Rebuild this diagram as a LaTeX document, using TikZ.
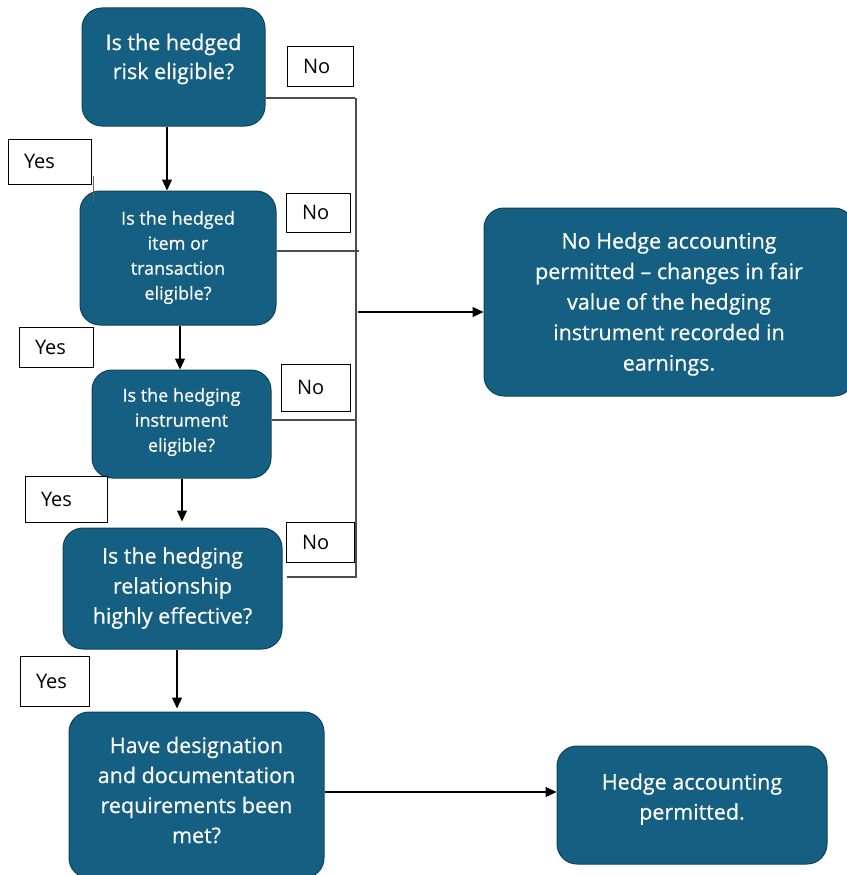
\documentclass[tikz,border=0pt]{standalone}
\usepackage{fontspec}
\setmainfont{Open Sans}
\newfontfamily\boxfont[FakeBold=0.5,Ligatures=TeX]{Open Sans}
\usetikzlibrary{arrows.meta,calc}
\definecolor{boxfill}{HTML}{156082}
\definecolor{boxline}{HTML}{0E4259}
\tikzset{
  qbox/.style={draw=boxline, line width=1pt, fill=boxfill, rounded corners=20pt,
    inner sep=0pt},
  qtext/.style={text=white, align=center, inner sep=0pt},
  tag/.style={draw=black, line width=0.9pt, fill=white, inner ysep=0pt, inner xsep=16pt,
    align=left, font=\fontsize{20}{22}\selectfont},
  bus/.style={draw=black!70, line width=1.2pt},
  flow/.style={draw=black, line width=1.2pt, -{Triangle[length=11pt,width=10pt]}},
}
\begin{document}
\begin{tikzpicture}[x=1pt,y=-1pt]
\useasboundingbox (0,0) rectangle (846,875);

% question boxes
\node[qbox, minimum width=183, minimum height=118] (b1) at (173.5,67) {};
\node[qtext, font=\boxfont\fontsize{21.5}{29}\selectfont] (t1) at (173.5,59)
  {Is the hedged\\risk eligible?};
\node[qbox, minimum width=196, minimum height=134] (b2) at (178,258) {};
\node[qtext, font=\boxfont\fontsize{18}{25}\selectfont] (t2) at (178,257.5)
  {Is the hedged\\item or\\transaction\\eligible?};
\node[qbox, minimum width=179, minimum height=108] (b3) at (181.5,424) {};
\node[qtext, font=\boxfont\fontsize{18}{25}\selectfont] (t3) at (181.5,422)
  {Is the hedging\\instrument\\eligible?};
\node[qbox, minimum width=219, minimum height=121] (b4) at (172.5,588.5) {};
\node[qtext, font=\boxfont\fontsize{21.5}{30}\selectfont] (t4) at (172.5,588)
  {Is the hedging\\relationship\\highly effective?};
\node[qbox, minimum width=255, minimum height=166] (b5) at (196.5,795) {};
\node[qtext, font=\boxfont\fontsize{21.5}{30}\selectfont] (t5) at (196.5,790)
  {Have designation\\and documentation\\requirements been\\met?};

% outcome boxes
\node[qbox, minimum width=370, minimum height=188] (b6) at (669,302) {};
\node[qtext, font=\boxfont\fontsize{21.5}{30.5}\selectfont] (t6) at (669,304)
  {No Hedge accounting\\permitted \textendash{} changes in fair\\value of the hedging\\instrument recorded in\\earnings.};
\node[qbox, minimum width=270, minimum height=118] (b7) at (692,805) {};
\node[qtext, font=\boxfont\fontsize{21.5}{30}\selectfont] (t7) at (692,799)
  {Hedge accounting\\permitted.};

% answer tags
\node[tag, text width=34, minimum height=40] (n1) at (320,66) {No};
\node[tag, text width=32, minimum height=39] (n2) at (318,212.5) {No};
\node[tag, text width=37, minimum height=47] (n3) at (315.5,387.5) {No};
\node[tag, text width=36, minimum height=40] (n4) at (320,542) {No};
\node[tag, text width=51, minimum height=45] (y1) at (49.5,161.5) {Yes};
\node[tag, text width=42, minimum height=40] (y2) at (56,347) {Yes};
\node[tag, text width=50, minimum height=46] (y3) at (66,499) {Yes};
\node[tag, text width=37, minimum height=50] (y4) at (54.5,681) {Yes};

% junction points of the "No" bus
\coordinate (j1) at (355,98);
\coordinate (j2) at (359,251);
\coordinate (j3) at (357,420);
\coordinate (j4) at (357,577);
\coordinate (jb) at (356,578);
\coordinate (ja) at (358,312);

\draw[bus] (b1.east |- j1) -- (j1);
\draw[bus] (356,98) -- (jb);
\draw[bus] (b2.east |- j2) -- (j2);
\draw[bus] (b3.east |- j3) -- (j3);
\draw[bus] ($(b4.east |- j4)+(4,0)$) -- (j4);
\draw[flow] (ja) -- (b6.west |- ja);

% "Yes" path
\coordinate (x1) at (167,0);
\coordinate (x2) at (180,0);
\coordinate (x3) at (182,0);
\coordinate (x4) at (177,0);
\draw[flow] (b1.south -| x1) -- (b2.north -| x1);
\draw[flow] (b2.south -| x2) -- (b3.north -| x2);
\draw[flow] (b3.south -| x3) -- ($(b4.north -| x3)+(0,-6)$);
\draw[flow] (b4.south -| x4) -- ($(b5.north -| x4)+(0,-3)$);
\coordinate (h5) at (0,792);
\draw[flow] (b5.east |- h5) -- (b7.west |- h5);

% stray tick on the first tag
\draw[black!60, line width=0.8pt] (93,176) -- (93,202);
\end{tikzpicture}
\end{document}
